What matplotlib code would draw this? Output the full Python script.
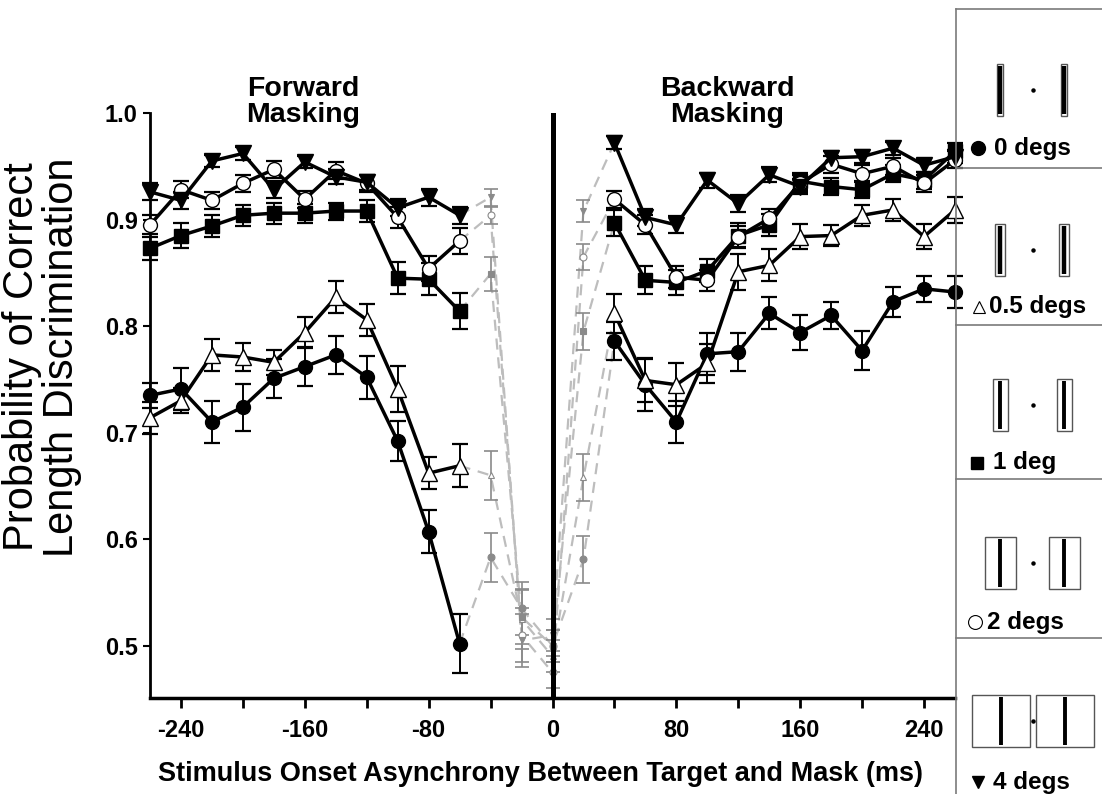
import numpy as np
import matplotlib
matplotlib.use("Agg")
import matplotlib.pyplot as plt
from matplotlib.patches import Rectangle

plt.rcParams['font.family'] = ['Liberation Sans', 'DejaVu Sans']

# SOA values (ms)
x_fwd = [-260, -240, -220, -200, -180, -160, -140, -120, -100, -80, -60]
x_mid = [-40, -20, 0, 20]
x_bwd = [40, 60, 80, 100, 120, 140, 160, 180, 200, 220, 240, 260]

# 0 degs (filled circle)
deg0_fwd = [0.735, 0.741, 0.710, 0.724, 0.751, 0.762, 0.773, 0.752, 0.692, 0.607, 0.502]
deg0_fwd_err = [0.012, 0.020, 0.020, 0.022, 0.018, 0.018, 0.018, 0.020, 0.019, 0.020, 0.028]
deg0_mid = [0.583, 0.535, 0.500, 0.581]
deg0_mid_err = [0.023, 0.025, 0.015, 0.022]
deg0_bwd = [0.786, 0.745, 0.710, 0.774, 0.776, 0.812, 0.794, 0.810, 0.777, 0.823, 0.835, 0.832]
deg0_bwd_err = [0.018, 0.025, 0.020, 0.020, 0.018, 0.015, 0.016, 0.013, 0.018, 0.014, 0.012, 0.015]

# 0.5 degs (open triangle)
deg05_fwd = [0.714, 0.730, 0.773, 0.771, 0.766, 0.794, 0.827, 0.806, 0.741, 0.662, 0.669]
deg05_fwd_err = [0.015, 0.012, 0.015, 0.013, 0.012, 0.015, 0.015, 0.015, 0.022, 0.015, 0.020]
deg05_mid = [0.660, 0.525, 0.490, 0.658]
deg05_mid_err = [0.023, 0.028, 0.015, 0.022]
deg05_bwd = [0.812, 0.749, 0.745, 0.765, 0.851, 0.857, 0.884, 0.885, 0.904, 0.909, 0.884, 0.909]
deg05_bwd_err = [0.018, 0.020, 0.020, 0.018, 0.017, 0.015, 0.012, 0.010, 0.010, 0.010, 0.012, 0.012]

# 1 deg (filled square)
deg1_fwd = [0.873, 0.885, 0.894, 0.904, 0.906, 0.906, 0.908, 0.908, 0.845, 0.844, 0.814]
deg1_fwd_err = [0.011, 0.012, 0.010, 0.010, 0.010, 0.009, 0.008, 0.010, 0.015, 0.015, 0.017]
deg1_mid = [0.849, 0.527, 0.500, 0.795]
deg1_mid_err = [0.016, 0.025, 0.015, 0.017]
deg1_bwd = [0.897, 0.843, 0.841, 0.852, 0.885, 0.895, 0.936, 0.931, 0.928, 0.943, 0.937, 0.964]
deg1_bwd_err = [0.012, 0.013, 0.012, 0.011, 0.012, 0.010, 0.008, 0.008, 0.008, 0.008, 0.008, 0.008]

# 2 degs (open circle)
deg2_fwd = [0.895, 0.928, 0.918, 0.934, 0.947, 0.919, 0.946, 0.934, 0.902, 0.854, 0.880]
deg2_fwd_err = [0.009, 0.008, 0.008, 0.008, 0.008, 0.008, 0.008, 0.008, 0.010, 0.012, 0.012]
deg2_mid = [0.904, 0.510, 0.475, 0.865]
deg2_mid_err = [0.008, 0.025, 0.015, 0.012]
deg2_bwd = [0.919, 0.895, 0.846, 0.843, 0.884, 0.901, 0.934, 0.952, 0.943, 0.950, 0.934, 0.956]
deg2_bwd_err = [0.008, 0.009, 0.010, 0.010, 0.010, 0.009, 0.008, 0.008, 0.008, 0.008, 0.008, 0.008]

# 4 degs (filled down triangle)
deg4_fwd = [0.926, 0.918, 0.955, 0.962, 0.928, 0.954, 0.940, 0.935, 0.911, 0.921, 0.904]
deg4_fwd_err = [0.008, 0.008, 0.006, 0.006, 0.008, 0.006, 0.007, 0.007, 0.008, 0.008, 0.008]
deg4_mid = [0.921, 0.505, 0.510, 0.908]
deg4_mid_err = [0.008, 0.025, 0.015, 0.010]
deg4_bwd = [0.972, 0.902, 0.895, 0.937, 0.915, 0.942, 0.931, 0.958, 0.959, 0.967, 0.951, 0.959]
deg4_bwd_err = [0.006, 0.008, 0.008, 0.007, 0.008, 0.007, 0.007, 0.006, 0.006, 0.006, 0.006, 0.006]

series = [
    ('o', 'black', deg0_fwd, deg0_fwd_err, deg0_mid, deg0_mid_err, deg0_bwd, deg0_bwd_err),
    ('^', 'white', deg05_fwd, deg05_fwd_err, deg05_mid, deg05_mid_err, deg05_bwd, deg05_bwd_err),
    ('s', 'black', deg1_fwd, deg1_fwd_err, deg1_mid, deg1_mid_err, deg1_bwd, deg1_bwd_err),
    ('o', 'white', deg2_fwd, deg2_fwd_err, deg2_mid, deg2_mid_err, deg2_bwd, deg2_bwd_err),
    ('v', 'black', deg4_fwd, deg4_fwd_err, deg4_mid, deg4_mid_err, deg4_bwd, deg4_bwd_err),
]
msizes = {'o': 10, '^': 11, 's': 9.5, 'v': 11}

W, H = 1102, 794
fig = plt.figure(figsize=(W / 100, H / 100), dpi=100)
ax = fig.add_axes([150 / W, 1 - 698 / H, (955 - 150) / W, (698 - 113) / H])

grey_line = '#bdbdbd'
grey_mark = '#8a8a8a'

for mk, fc, yf, ef, ym, em, yb, eb in series:
    # grey dashed bridge through the short SOAs
    xs = [x_fwd[-1]] + x_mid + [x_bwd[0]]
    ys = [yf[-1]] + ym + [yb[0]]
    ax.plot(xs, ys, ls=(0, (5, 3.5)), color=grey_line, lw=1.6, zorder=1)
    ax.errorbar(x_mid, ym, yerr=em, fmt='none', ecolor=grey_mark, elinewidth=1.2,
                capsize=5, capthick=1.2, zorder=2)
    mfc = grey_mark if fc == 'black' else 'white'
    ax.plot(x_mid, ym, ls='none', marker=mk, ms=5, mfc=mfc, mec=grey_mark,
            mew=0.8, zorder=3)
    for xx, yy, ee in [(x_fwd, yf, ef), (x_bwd, yb, eb)]:
        ax.errorbar(xx, yy, yerr=ee, fmt='none', ecolor='black', elinewidth=1.4,
                    capsize=6, capthick=1.6, zorder=4, clip_on=False)
        ax.plot(xx, yy, color='black', lw=2.5, marker=mk, ms=msizes[mk], mfc=fc,
                mec='black', mew=1.0, zorder=5, clip_on=False)

ax.axvline(0, color='black', lw=3.6, zorder=6)

ax.set_xlim(-260, 260)
ax.set_ylim(0.451, 1.0)
xt = list(range(-240, 241, 40))
ax.set_xticks(xt)
ax.set_xticklabels([str(t) if t % 80 == 0 else '' for t in xt])
ax.set_yticks([0.5, 0.6, 0.7, 0.8, 0.9, 1.0])
ax.set_yticklabels(['0.5', '0.6', '0.7', '0.8', '0.9', '1.0'])
for lab in ax.get_xticklabels() + ax.get_yticklabels():
    lab.set_fontweight('bold')
    lab.set_fontsize(17)
ax.tick_params(axis='x', length=7, width=2, pad=8)
ax.tick_params(axis='y', length=5, width=1.5, pad=4)
ax.spines['top'].set_visible(False)
ax.spines['right'].set_visible(False)
ax.spines['left'].set_linewidth(2)
ax.spines['bottom'].set_linewidth(2.5)

fig.text(303 / W, 1 - 102 / H, 'Forward\nMasking', ha='center', va='center',
         fontsize=20.5, fontweight='bold', linespacing=1.05)
fig.text(727 / W, 1 - 102 / H, 'Backward\nMasking', ha='center', va='center',
         fontsize=20.5, fontweight='bold', linespacing=1.05)
fig.text(42 / W, 1 - 357 / H, 'Probability of Correct\nLength Discrimination',
         rotation=90, ha='center', va='center', fontsize=30, linespacing=0.98)
fig.text(540 / W, 1 - 774 / H, 'Stimulus Onset Asynchrony Between Target and Mask (ms)',
         ha='center', va='center', fontsize=19.5, fontweight='bold')

# legend panel with stimulus sketches
lg = fig.add_axes([955 / W, 0, (W - 955) / W, 1])
lg.set_xlim(955, W)
lg.set_ylim(H, 0)
lg.axis('off')
edge = '#7a7a7a'
lg.plot([956, 956], [9, H], color=edge, lw=1.2)
lg.plot([956, W], [9, 9], color=edge, lw=1.2)
for yy in [168, 325, 479, 638]:
    lg.plot([956, W], [yy, yy], color=edge, lw=1.2)

legend_labels = ['0 degs', '0.5 degs', '1 deg', '2 degs', '4 degs']
legend_marks = [('o', 'black'), ('^', 'white'), ('s', 'black'), ('o', 'white'), ('v', 'black')]
sketch_y = [90, 250, 405, 563, 721]
label_y = [148, 307, 463, 622, 782]
mark_x = [978, 979, 977, 975, 978]
text_x = [994, 989, 993, 987, 993]
frame_w = [6, 10, 15, 31, 58]

for i in range(5):
    cy = sketch_y[i]
    for cx in [1000, 1064]:
        fw = frame_w[i]
        if i == 4:
            cx = 1001 if cx == 1000 else 1065
        fx = cx - fw / 2
        lg.add_patch(Rectangle((fx, cy - 26), fw, 52, fill=False, ec='#555555', lw=1.0))
        lg.plot([cx, cx], [cy - 24, cy + 24], color='black', lw=3.2 if i < 2 else 2.8,
                solid_capstyle='butt')
    lg.plot([1033], [cy], marker='o', ms=2.2, color='black')
    mk, fc = legend_marks[i]
    lg.plot([mark_x[i]], [label_y[i]], marker=mk, ms=9 if mk != 'o' else 10, mfc=fc,
            mec='black', mew=1.0 if fc == 'black' else 0.8)
    lg.text(text_x[i], label_y[i], legend_labels[i], ha='left', va='center',
            fontsize=17.5, fontweight='bold')

fig.savefig('out.png', dpi=100)
